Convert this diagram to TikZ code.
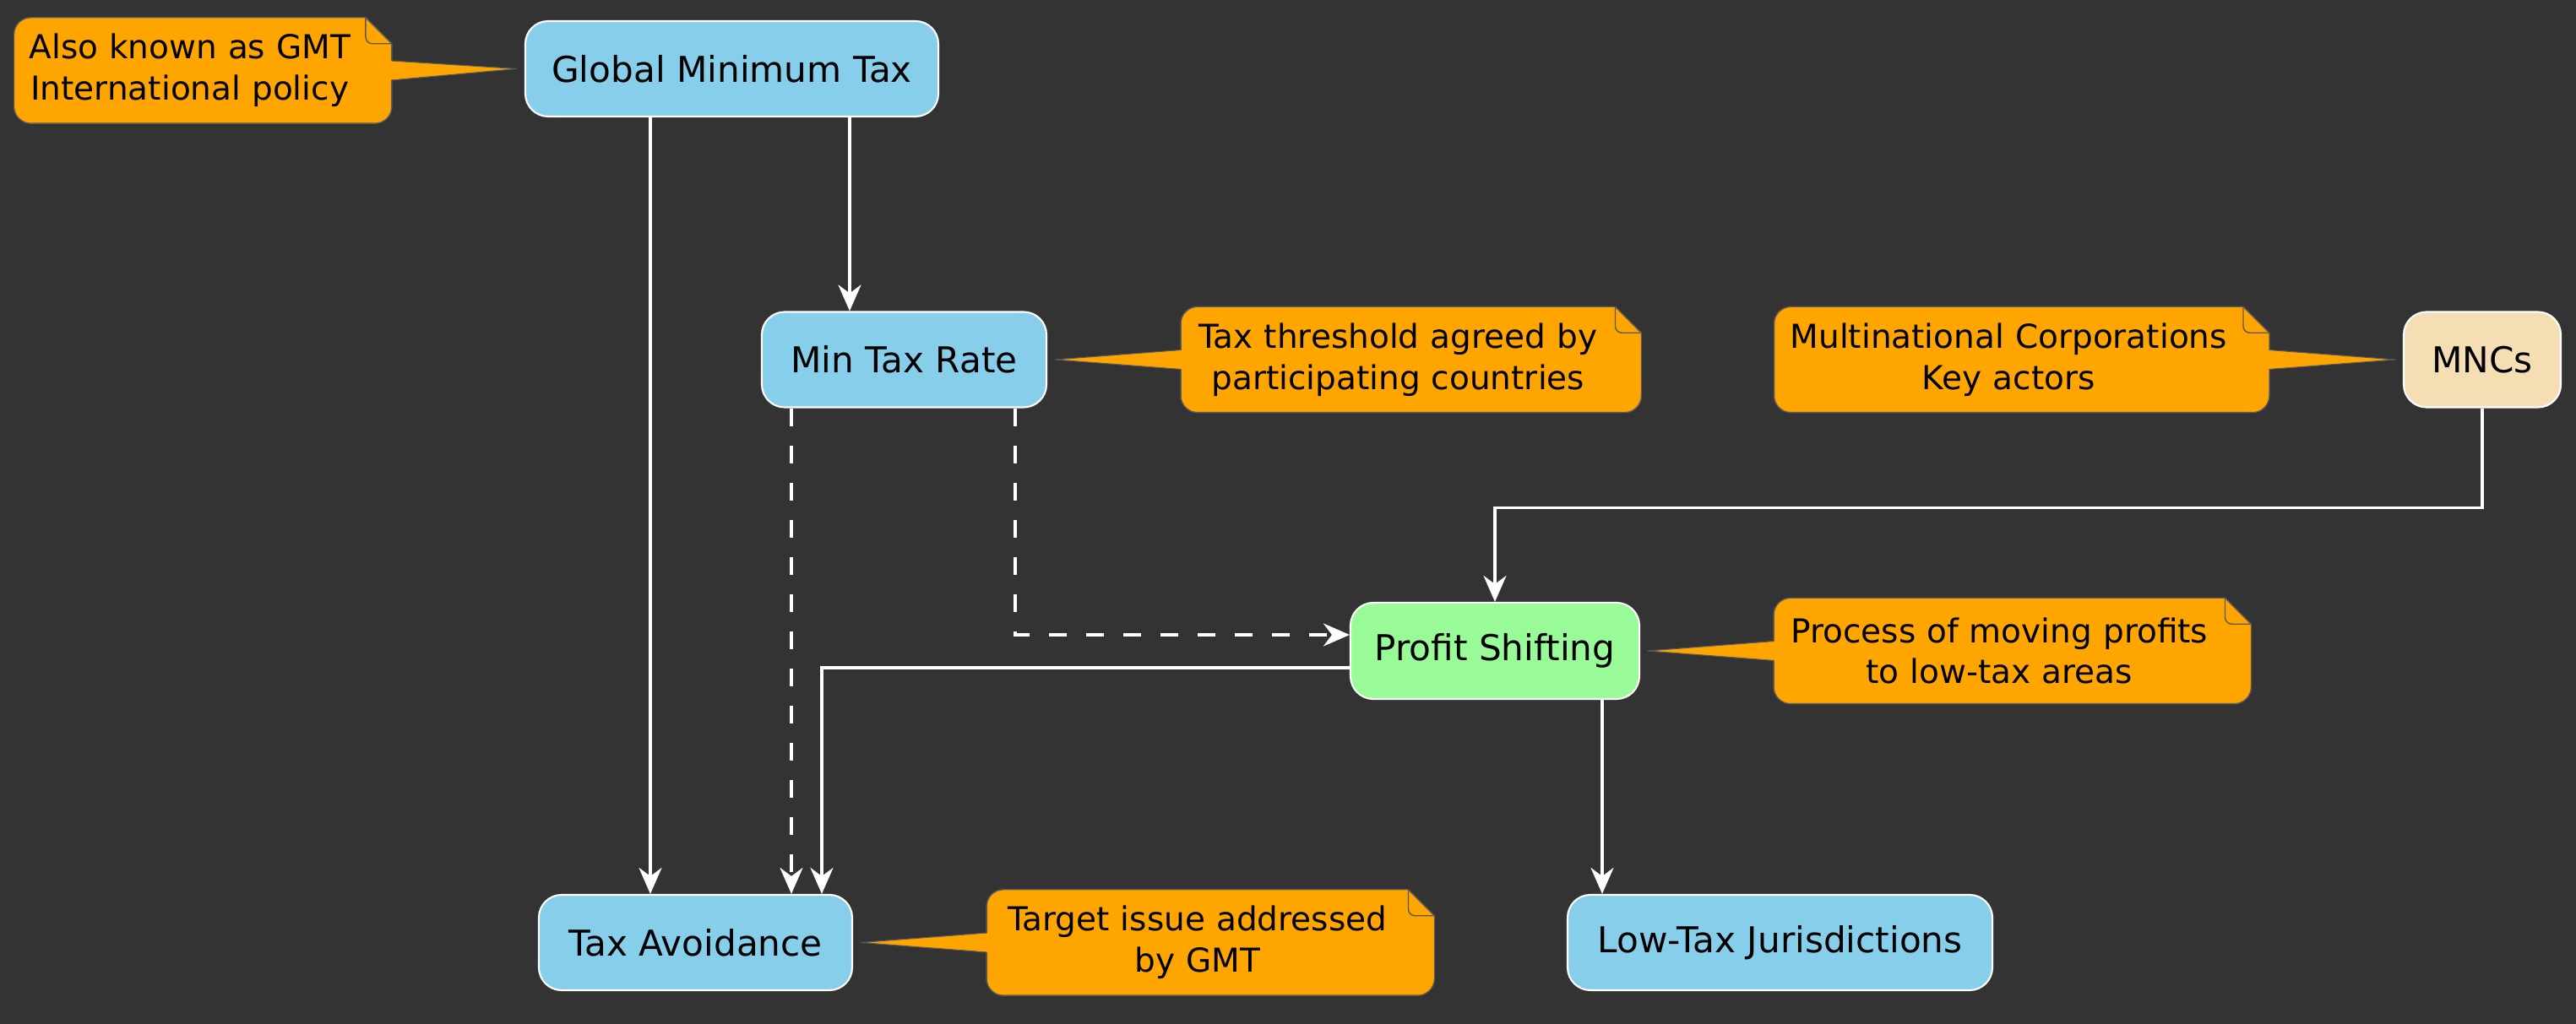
\documentclass[tikz,border=0pt]{standalone}
\usepackage{fontspec}
\setmainfont{DejaVu Sans}
\usepackage{xcolor}
\usepackage{tikz}
\usetikzlibrary{arrows.meta,positioning,calc}

\definecolor{bgc}{HTML}{333333}
\definecolor{skyc}{HTML}{87CEEB}
\definecolor{greenc}{HTML}{98FB98}
\definecolor{wheatc}{HTML}{F5DEB3}
\definecolor{notec}{HTML}{FFA500}
\definecolor{noteedge}{HTML}{5A5A5A}

\pgfdeclarelayer{bg}
\pgfdeclarelayer{notes}
\pgfsetlayers{bg,notes,main}

\begin{document}
\begin{tikzpicture}[
    node distance=1.58cm,
    box/.style={rectangle, rounded corners=0.27cm, draw=white, line width=0.6pt, fill=skyc, minimum height=1.13cm, inner sep=0pt, font=\fontsize{12}{14}\selectfont},
    note/.style={rectangle, inner xsep=0pt, inner ysep=0pt, minimum height=1.24cm, align=center, font=\fontsize{11.1}{13.9}\selectfont},
    notebody/.style={fill=notec, draw=noteedge, line width=0.4pt},
    arrow/.style={-{Stealth[length=0.31cm, width=0.27cm, inset=0.1cm]}, white, line width=1.1pt},
    dasharrow/.style={arrow, dash pattern=on 0.21cm off 0.23cm},
]

\begin{pgfonlayer}{bg}
\path[use as bounding box, fill=bgc] (0,0) rectangle (30.50,-12.13);
\end{pgfonlayer}

% Main boxes
\node[box, minimum width=4.89cm] (gmt) at (8.665,-0.815) {Global Minimum Tax};
\node[box, minimum width=3.37cm] (minrate) at (10.705,-4.26) {Min Tax Rate};
\node[box, fill=wheatc, minimum width=1.86cm] (mncs) at (29.39,-4.26) {MNCs};
\node[box, fill=greenc, minimum width=3.42cm, minimum height=1.14cm] (shifting) at (17.70,-7.71) {Profit Shifting};
\node[box, minimum width=3.71cm] (avoid) at (8.235,-11.165) {Tax Avoidance};
\node[box, minimum width=5.03cm] (lowtax) at (21.075,-11.165) {Low-Tax Jurisdictions};

% Notes
\node[note, text width=4.15cm, left=1.88cm of gmt, yshift=-0.02cm] (gmtnote) {Also known as GMT\\International policy};
\node[note, text width=5.13cm, right=of minrate] (ratenote) {Tax threshold agreed by\\participating countries};
\node[note, text width=5.54cm, left=1.89cm of mncs] (mncnote) {Multinational Corporations\\Key actors};
\node[note, text width=5.33cm, right=of shifting] (shiftnote) {Process of moving profits\\to low-tax areas};
\node[note, text width=4.98cm, right=of avoid] (avoidnote) {Target issue addressed\\by GMT};

\begin{pgfonlayer}{notes}
\foreach \n in {gmtnote,ratenote,mncnote,shiftnote,avoidnote} {
    \filldraw[notebody] ([xshift=0.2cm]\n.north west) -- (\n.north east) -- ([xshift=0.31cm, yshift=-0.31cm]\n.north east)
        -- ([xshift=0.31cm, yshift=0.2cm]\n.south east) arc[start angle=0, end angle=-90, radius=0.2cm]
        -- ([xshift=0.2cm]\n.south west) arc[start angle=270, end angle=180, radius=0.2cm]
        -- ([yshift=-0.2cm]\n.north west) arc[start angle=180, end angle=90, radius=0.2cm] -- cycle;
    \draw[noteedge, line width=0.4pt, rounded corners=0.08cm] (\n.north east) -- ([yshift=-0.31cm]\n.north east) -- ([xshift=0.31cm, yshift=-0.31cm]\n.north east);
}
\foreach \n/\t in {gmtnote/gmt,mncnote/mncs} {
    \fill[notec] ([xshift=0.27cm, yshift=0.115cm]\n.east) -- ([xshift=-0.09cm]\t.west) -- ([xshift=0.27cm, yshift=-0.115cm]\n.east) -- cycle;
    \draw[noteedge, line width=0.3pt] ([xshift=0.31cm, yshift=0.115cm]\n.east) -- ([xshift=-0.09cm]\t.west) -- ([xshift=0.31cm, yshift=-0.115cm]\n.east);
}
\foreach \n/\t in {ratenote/minrate,shiftnote/shifting,avoidnote/avoid} {
    \fill[notec] ([xshift=0.04cm, yshift=0.115cm]\n.west) -- ([xshift=0.09cm]\t.east) -- ([xshift=0.04cm, yshift=-0.115cm]\n.west) -- cycle;
    \draw[noteedge, line width=0.3pt] ([yshift=0.115cm]\n.west) -- ([xshift=0.09cm]\t.east) -- ([yshift=-0.115cm]\n.west);
}
\end{pgfonlayer}

% Arrows
\coordinate (gmta) at ([xshift=-0.965cm]gmt.south);
\coordinate (gmtb) at ([xshift=1.395cm]gmt.south);
\coordinate (ratea) at ([xshift=-1.335cm]minrate.south);
\coordinate (rateb) at ([xshift=1.315cm]minrate.south);
\coordinate (shifta) at ([yshift=0.19cm]shifting.west);
\coordinate (shiftb) at ([yshift=-0.20cm]shifting.west);
\coordinate (shiftc) at ([xshift=1.27cm]shifting.south);
\coordinate (avoidb) at ([xshift=1.495cm]avoid.north);
\coordinate (mncsa) at ([yshift=-1.18cm]mncs.south);

\draw[arrow] (gmta) -- (gmta |- avoid.north);
\draw[arrow] (gmtb) -- (gmtb |- minrate.north);
\draw[dasharrow] (ratea) -- (ratea |- avoid.north);
\draw[dasharrow] (rateb) |- (shifta);
\draw[arrow] (shiftb) -| (avoidb);
\draw[arrow] (shiftc) -- (shiftc |- lowtax.north);
\draw[arrow] (mncs.south) -- (mncsa) -| (shifting.north);

\end{tikzpicture}
\end{document}
